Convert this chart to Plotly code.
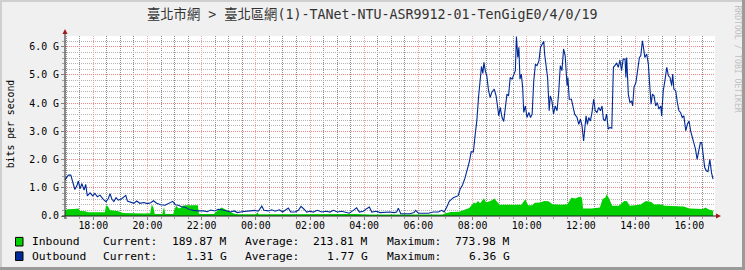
import plotly.graph_objects as go
from datetime import datetime, timedelta

# ---------------- data ----------------
title_text = "臺北市網 > 臺北區網(1)-TANet-NTU-ASR9912-01-TenGigE0/4/0/19"
y_label = "bits per second"
watermark = "RRDTOOL / TOBI OETIKER"

series_names = ["Inbound", "Outbound"]
series_colors = ["#00CF00", "#002A97"]
current_txt = ["189.87 M", "1.31 G"]
average_txt = ["213.81 M", "1.77 G"]
maximum_txt = ["773.98 M", "6.36 G"]

y_tickvals = [0, 1, 2, 3, 4, 5, 6]
y_ticktext = ["0.0", "1.0 G", "2.0 G", "3.0 G", "4.0 G", "5.0 G", "6.0 G"]

# time in clock hours (values >= 24 belong to the next day), traffic in Gbit/s
hours_in = [16.96, 17.05, 17.30, 17.45, 17.52, 17.70, 17.80, 18.30, 18.43, 18.47,
            18.55, 18.62, 18.90, 19.10, 19.50, 19.90, 20.10, 20.16, 20.22, 20.27,
            20.55, 20.61, 20.66, 20.95, 21.00, 21.06, 21.15, 21.25, 21.30, 21.40,
            21.60, 21.86, 21.90, 22.00, 22.45, 22.55, 22.65, 22.73, 22.85, 23.00,
            23.20, 23.35, 24.00, 24.06, 24.10, 24.30, 25.30, 25.70, 26.50, 27.70,
            28.20, 29.30, 30.00, 30.90, 31.00, 31.20, 31.50, 31.60, 31.75, 31.88,
            31.98, 32.05, 32.12, 32.20, 32.28, 32.35, 32.42, 32.50, 32.60, 32.70,
            32.80, 32.90, 33.00, 33.30, 33.50, 33.80, 33.95, 34.05, 34.20, 34.30,
            34.50, 34.65, 34.80, 34.95, 35.30, 35.50, 35.65, 35.80, 35.95, 36.04,
            36.08, 36.40, 36.70, 36.80, 36.90, 36.95, 37.05, 37.15, 37.40, 37.60,
            37.70, 37.80, 38.00, 38.20, 38.40, 38.60, 38.70, 38.90, 39.10, 39.50,
            39.80, 40.00, 40.30, 40.50, 40.60, 40.70, 40.88]
gbps_in = [0.20, 0.24, 0.25, 0.27, 0.18, 0.17, 0.13, 0.12, 0.13, 0.38,
           0.33, 0.20, 0.18, 0.11, 0.09, 0.09, 0.10, 0.41, 0.30, 0.07,
           0.07, 0.32, 0.07, 0.07, 0.22, 0.36, 0.27, 0.30, 0.36, 0.38,
           0.38, 0.38, 0.08, 0.07, 0.07, 0.17, 0.24, 0.30, 0.24, 0.18,
           0.08, 0.06, 0.06, 0.13, 0.06, 0.06, 0.07, 0.05, 0.06, 0.07,
           0.05, 0.06, 0.05, 0.05, 0.10, 0.14, 0.15, 0.18, 0.22, 0.28,
           0.40, 0.48, 0.44, 0.53, 0.45, 0.55, 0.63, 0.48, 0.52, 0.55,
           0.62, 0.50, 0.40, 0.40, 0.39, 0.40, 0.59, 0.38, 0.38, 0.47,
           0.48, 0.53, 0.52, 0.42, 0.40, 0.42, 0.65, 0.62, 0.68, 0.65,
           0.27, 0.27, 0.30, 0.60, 0.65, 0.77, 0.60, 0.36, 0.36, 0.53,
           0.52, 0.36, 0.38, 0.41, 0.53, 0.50, 0.41, 0.42, 0.36, 0.35,
           0.34, 0.27, 0.26, 0.25, 0.30, 0.24, 0.19]

hours_out = [
    16.96, 17.08, 17.17, 17.24, 17.32, 17.39, 17.45, 17.51, 17.58, 17.66,
    17.72, 17.78, 17.88, 17.98, 18.06, 18.15, 18.25, 18.37, 18.47, 18.55,
    18.62, 18.69, 18.76, 18.84, 18.92, 19.05, 19.13, 19.20, 19.26, 19.38,
    19.50, 19.60, 19.72, 19.87, 19.99, 20.12, 20.22, 20.34, 20.49, 20.65,
    20.81, 20.93, 21.03, 21.14, 21.26, 21.39, 21.53, 21.69, 21.88, 22.07,
    22.21, 22.33, 22.49, 22.61, 22.78, 22.92, 23.07, 23.20, 23.32, 23.48,
    23.66,
    23.79, 23.97, 24.09, 24.22, 24.30, 24.46, 24.59, 24.71, 24.87, 24.99,
    25.08, 25.20, 25.29, 25.45, 25.57, 25.67, 25.78, 25.88, 26.00, 26.12,
    26.27, 26.43, 26.59, 26.74, 26.86, 27.01, 27.17, 27.33, 27.45, 27.60,
    27.72, 27.82, 27.97, 28.09, 28.19, 28.28, 28.46, 28.58, 28.77, 28.95,
    29.10, 29.20, 29.26, 29.35, 29.51, 29.69, 29.84, 29.90, 30.00, 30.18,
    30.37, 30.55, 30.74, 30.86, 30.95, 31.05, 31.14, 31.29, 31.39, 31.47,
    31.54, 31.63, 31.72, 31.81, 31.88, 31.95, 32.03, 32.10, 32.16, 32.22,
    32.28, 32.33, 32.38, 32.42, 32.47, 32.53, 32.59, 32.65, 32.71, 32.80,
    32.87,
    32.90, 32.97, 33.02, 33.09, 33.15, 33.21, 33.27, 33.33, 33.39, 33.46,
    33.52, 33.58, 33.62, 33.67, 33.71, 33.75, 33.80, 33.85, 33.89, 33.95,
    34.01, 34.08, 34.14, 34.20, 34.26, 34.32, 34.38, 34.45, 34.51, 34.57,
    34.63, 34.66, 34.71, 34.77, 34.83, 34.87, 34.93, 34.99, 35.05, 35.12,
    35.18, 35.24, 35.30, 35.36, 35.42, 35.49, 35.52, 35.57, 35.65, 35.70,
    35.77, 35.86, 35.92, 35.98, 36.04, 36.10, 36.14, 36.19, 36.24, 36.29,
    36.35, 36.41, 36.47, 36.53, 36.59, 36.66, 36.72, 36.78,
    36.83, 36.89, 36.95, 37.01, 37.07, 37.14, 37.20, 37.26, 37.32, 37.38,
    37.44, 37.50, 37.56, 37.63, 37.66, 37.69, 37.75, 37.81, 37.87, 37.91,
    37.96, 38.03, 38.08, 38.16, 38.21, 38.27, 38.30, 38.36, 38.43, 38.49,
    38.55, 38.59, 38.64, 38.70, 38.76, 38.82, 38.88, 38.95, 38.98, 39.04,
    39.10, 39.17, 39.23, 39.29, 39.35, 39.39, 39.43, 39.50, 39.56, 39.62,
    39.68, 39.74, 39.80, 39.87, 39.93, 39.99, 40.05, 40.11, 40.17, 40.23,
    40.29, 40.35, 40.41, 40.46, 40.51, 40.57, 40.63, 40.69, 40.76, 40.82,
    40.88]
gbps_out = [
    1.29, 1.45, 1.45, 1.24, 0.94, 1.06, 1.24, 0.96, 1.15, 0.92,
    1.12, 0.71, 0.82, 0.71, 0.80, 0.68, 0.74, 0.59, 0.51, 0.61,
    0.79, 0.59, 0.51, 0.65, 0.56, 0.61, 0.67, 0.73, 0.53, 0.49,
    0.45, 0.53, 0.45, 0.48, 0.44, 0.47, 0.54, 0.45, 0.40, 0.38,
    0.47, 0.52, 0.40, 0.38, 0.33, 0.31, 0.24, 0.20, 0.18, 0.18,
    0.15, 0.21, 0.18, 0.24, 0.21, 0.18, 0.14, 0.18, 0.12, 0.15,
    0.18,
    0.18, 0.20, 0.17, 0.35, 0.20, 0.18, 0.22, 0.17, 0.22, 0.14,
    0.20, 0.28, 0.14, 0.14, 0.20, 0.34, 0.24, 0.14, 0.17, 0.14,
    0.20, 0.14, 0.17, 0.14, 0.20, 0.14, 0.17, 0.14, 0.10, 0.20,
    0.29, 0.14, 0.17, 0.26, 0.32, 0.14, 0.17, 0.12, 0.14, 0.14,
    0.12, 0.14, 0.28, 0.08, 0.08, 0.08, 0.12, 0.20, 0.10, 0.10,
    0.10, 0.14, 0.14, 0.20, 0.14, 0.32, 0.52, 0.65, 0.70, 0.72,
    0.95, 1.10, 1.34, 1.63, 1.92, 2.28, 2.27, 2.90, 3.40, 4.20,
    4.90, 5.30, 5.05, 5.45, 5.15, 4.95, 4.45, 4.20, 4.38, 4.50,
    4.26,
    4.08, 3.55, 3.85, 3.49, 3.35, 3.90, 4.32, 4.26, 4.91, 4.85,
    4.97, 5.15, 6.36, 5.62, 5.98, 4.85, 5.03, 4.56, 3.67, 3.90,
    3.49, 3.67, 3.49, 3.61, 4.79, 5.38, 5.33, 5.50, 5.98, 6.09,
    6.19, 5.74, 5.27, 4.91, 3.73, 4.26, 4.08, 3.61, 3.90, 3.73,
    4.38, 5.33, 5.15, 5.92, 5.68, 4.62, 4.91, 4.14, 4.14, 3.96,
    3.61, 3.49, 3.25, 3.43, 3.20, 2.66, 3.20, 3.55, 3.25, 3.49,
    3.37, 3.67, 4.14, 3.73, 3.67, 3.85, 3.73, 3.90,
    3.43, 3.37, 3.61, 3.08, 3.14, 3.11, 5.27, 5.33, 5.41, 5.27,
    5.53, 5.15, 5.56, 5.56, 4.91, 5.62, 4.32, 4.02, 4.08, 3.90,
    4.56, 4.73, 5.09, 5.62, 5.68, 6.21, 6.04, 5.62, 5.74, 5.38,
    4.50, 3.96, 4.32, 4.26, 3.90, 4.02, 3.79, 3.90, 3.55, 4.44,
    4.79, 5.27, 4.97, 4.91, 4.62, 5.03, 4.50, 4.44, 4.02, 3.73,
    3.67, 3.49, 3.55, 3.02, 3.25, 3.37, 3.02, 2.78, 2.54, 2.37,
    2.01, 2.25, 2.60, 2.60, 2.13, 1.72, 1.60, 1.57, 2.01, 1.54,
    1.31]

assert len(hours_in) == len(gbps_in)
assert len(hours_out) == len(gbps_out)

X_START, X_END = 16.956, 40.95   # 24 h window shown
Y_MAX = 6.38

# ---------------- helpers ----------------
BASE = datetime(2024, 1, 1)


def t(h):
    return BASE + timedelta(hours=h)


W, H = 745, 270
PL, PR, PT, PB = 65, 715, 36, 216   # plot box in pixels


def fx(px):
    return (px - PL) / (PR - PL)


def fy(py):
    return (PB - py) / (PB - PT)


MONO = "DejaVu Sans Mono"
MAJ_X = "#F4A0A0"
MAJ_Y = "#F08888"
MIN_X = "#8C8C8C"
MIN_Y = "#B4B4B4"
DASH = "1px,1px"

# half-hour minor grid positions (not on the 2-hour major lines)
x_minor = [t(17 + 0.5 * k) for k in range(48) if (0.5 * k) % 2 != 1]

fig = go.Figure()
fig.add_trace(go.Scatter(
    x=[t(h) for h in hours_in], y=gbps_in, mode="lines",
    line=dict(width=0, color=series_colors[0]),
    fill="tozeroy", fillcolor=series_colors[0], hoverinfo="skip"))
fig.add_trace(go.Scatter(
    x=[t(h) for h in hours_out], y=gbps_out, mode="lines",
    line=dict(width=1.1, color=series_colors[1]), hoverinfo="skip"))

fig.update_layout(
    width=W, height=H, autosize=False,
    margin=dict(l=PL, r=W - PR, t=PT, b=H - PB, pad=0),
    paper_bgcolor="#F0F0F0", plot_bgcolor="#FFFFFF",
    showlegend=False,
    xaxis=dict(
        type="date", range=[t(X_START), t(X_END)],
        tick0=t(18), dtick=2 * 3600 * 1000, tickformat="%H:%M",
        showgrid=True, gridcolor=MAJ_X, griddash=DASH, gridwidth=1,
        ticks="outside", ticklen=3, tickcolor="#808080", tickwidth=1,
        ticklabelstandoff=-3,
        minor=dict(tickmode="array", tickvals=x_minor, showgrid=True, gridcolor=MIN_X,
                   griddash=DASH, gridwidth=1, ticks="outside", ticklen=2,
                   tickcolor="#A0A0A0"),
        zeroline=False, showline=False, fixedrange=True,
        tickfont=dict(family=MONO, size=9.9, color="#000000"),
    ),
    yaxis=dict(
        range=[0, Y_MAX], tickmode="array", tickvals=y_tickvals, ticktext=y_ticktext,
        showgrid=True, gridcolor=MAJ_Y, griddash=DASH, gridwidth=1,
        ticks="outside", ticklen=3, tickcolor="#808080", tickwidth=1,
        minor=dict(tick0=0, dtick=0.2, showgrid=True, gridcolor=MIN_Y,
                   griddash=DASH, gridwidth=1, ticks="outside", ticklen=2,
                   tickcolor="#A0A0A0"),
        zeroline=False, showline=False, fixedrange=True,
        tickfont=dict(family=MONO, size=9.9, color="#000000"),
    ),
)

shapes = []
# canvas 3D border
shapes.append(dict(type="line", xref="paper", yref="paper", x0=fx(0), x1=fx(W), y0=fy(1), y1=fy(1),
                   line=dict(color="#CFCFCF", width=2)))
shapes.append(dict(type="line", xref="paper", yref="paper", x0=fx(1), x1=fx(1), y0=fy(0), y1=fy(H),
                   line=dict(color="#CFCFCF", width=2)))
shapes.append(dict(type="line", xref="paper", yref="paper", x0=fx(0), x1=fx(W), y0=fy(H - 1.5), y1=fy(H - 1.5),
                   line=dict(color="#9A9A9A", width=3)))
shapes.append(dict(type="line", xref="paper", yref="paper", x0=fx(W - 1.5), x1=fx(W - 1.5), y0=fy(0), y1=fy(H),
                   line=dict(color="#9A9A9A", width=3)))
# axes
shapes.append(dict(type="line", xref="paper", yref="paper", x0=fx(62), x1=fx(717), y0=fy(216), y1=fy(216),
                   line=dict(color="#202020", width=1)))
shapes.append(dict(type="line", xref="paper", yref="paper", x0=fx(65), x1=fx(65), y0=fy(219), y1=fy(33),
                   line=dict(color="#202020", width=1)))
# arrows
shapes.append(dict(type="path", xref="paper", yref="paper",
                   path=f"M {fx(62.5)},{fy(34)} L {fx(67.5)},{fy(34)} L {fx(65)},{fy(29)} Z",
                   fillcolor="#A01818", line=dict(width=0)))
shapes.append(dict(type="path", xref="paper", yref="paper",
                   path=f"M {fx(716)},{fy(213.5)} L {fx(716)},{fy(218.5)} L {fx(721)},{fy(216)} Z",
                   fillcolor="#A01818", line=dict(width=0)))
# legend colour boxes
row_y = [241.7, 256.2]
for i in range(2):
    shapes.append(dict(type="rect", xref="paper", yref="paper",
                       x0=fx(15.5), x1=fx(23), y0=fy(row_y[i] - 4.3), y1=fy(row_y[i] + 4.3),
                       fillcolor=series_colors[i], line=dict(color="#000000", width=1)))
fig.update_layout(shapes=shapes)

ann = []
ann.append(dict(text=title_text, xref="paper", yref="paper", x=fx(372.5), y=fy(14.5),
                xanchor="center", yanchor="middle", showarrow=False,
                font=dict(family=MONO + ', "Noto Sans CJK TC"', size=13.3, color="#333333")))
ann.append(dict(text=y_label, xref="paper", yref="paper", x=fx(10.8), y=fy(124.5),
                xanchor="center", yanchor="middle", showarrow=False, textangle=-90,
                font=dict(family=MONO, size=9.8, color="#000000")))
ann.append(dict(text=watermark, xref="paper", yref="paper", x=fx(737.5), y=fy(59),
                xanchor="center", yanchor="middle", showarrow=False, textangle=90,
                font=dict(family=MONO, size=8.1, color="#C0C0C0")))

LEG = dict(family=MONO, size=11.3, color="#000000")
for i in range(2):
    y = fy(row_y[i])
    for txt, x in [(series_names[i], 30.7), ("Current:", 102.3), ("Average:", 244.3), ("Maximum:", 386)]:
        ann.append(dict(text=txt, xref="paper", yref="paper", x=fx(x), y=y, xanchor="left",
                        yanchor="middle", showarrow=False, borderpad=0, font=LEG))
    for txt, x in [(current_txt[i], 227.7), (average_txt[i], 369.3), (maximum_txt[i], 511.3)]:
        ann.append(dict(text=txt, xref="paper", yref="paper", x=fx(x), y=y, xanchor="right",
                        yanchor="middle", showarrow=False, borderpad=0, font=LEG))
fig.update_layout(annotations=ann)

fig.write_html("out.html")
